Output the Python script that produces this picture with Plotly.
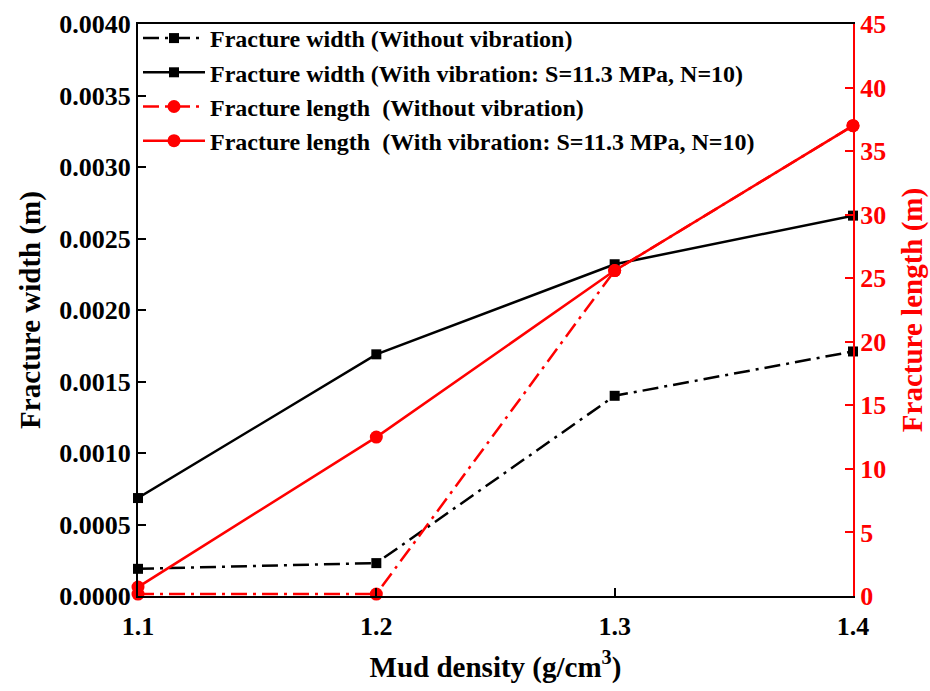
import plotly.graph_objects as go

mud_density = [1.1, 1.2, 1.3, 1.4]
width_without = [0.00019, 0.00023, 0.00140, 0.00171]
width_with = [0.000685, 0.00169, 0.00232, 0.00266]
length_without = [0.15, 0.15, 25.6, 37.0]
length_with = [0.7, 12.5, 25.6, 37.0]

FONT = "Liberation Serif"
RED = "#ff0000"
dashdot = "16px,6px,3px,6px"

fig = go.Figure()
fig.add_trace(go.Scatter(
    x=mud_density, y=width_without, name="Fracture width (Without vibration)",
    mode="lines+markers", line=dict(color="black", width=2.5, dash=dashdot),
    marker=dict(symbol="square", size=10, color="black"), cliponaxis=False, yaxis="y"))
fig.add_trace(go.Scatter(
    x=mud_density, y=width_with, name="Fracture width (With vibration: S=11.3 MPa, N=10)",
    mode="lines+markers", line=dict(color="black", width=2.5),
    marker=dict(symbol="square", size=10, color="black"), cliponaxis=False, yaxis="y"))
fig.add_trace(go.Scatter(
    x=mud_density, y=length_without, name="Fracture length  (Without vibration)",
    mode="lines+markers", line=dict(color=RED, width=2.5, dash=dashdot),
    marker=dict(symbol="circle", size=13, color=RED), cliponaxis=False, yaxis="y2"))
fig.add_trace(go.Scatter(
    x=mud_density, y=length_with, name="Fracture length  (With vibration: S=11.3 MPa, N=10)",
    mode="lines+markers", line=dict(color=RED, width=2.5),
    marker=dict(symbol="circle", size=13, color=RED), cliponaxis=False, yaxis="y2"))

fig.update_layout(
    width=930, height=691,
    margin=dict(l=138, r=77, t=24, b=95),
    plot_bgcolor="white", paper_bgcolor="white",
    font=dict(family=FONT, size=26, color="black", weight="bold"),
    showlegend=True,
    legend=dict(x=0.0, y=1.014, xanchor="left", yanchor="top",
                bgcolor="rgba(0,0,0,0)", font=dict(family=FONT, size=24, weight="bold"),
                itemwidth=62, tracegroupgap=0),
    xaxis=dict(
        range=[1.1, 1.4], tickvals=mud_density, ticktext=["1.1", "1.2", "1.3", "1.4"],
        showline=True, linecolor="black", linewidth=2, mirror=True,
        ticks="inside", ticklen=8, tickwidth=2, tickcolor="black",
        showgrid=False, zeroline=False, ticklabelstandoff=6, automargin=False,
        tickfont=dict(family=FONT, size=26, weight="bold"),
        title=dict(text="Mud density (g/cm<sup>3</sup>)", standoff=16,
                   font=dict(family=FONT, size=29, weight="bold")),
    ),
    yaxis=dict(
        range=[0, 0.004], dtick=0.0005, tickformat=".4f",
        showline=True, linecolor="black", linewidth=2, automargin=False,
        ticks="inside", ticklen=8, tickwidth=2, tickcolor="black",
        showgrid=False, zeroline=False,
        tickfont=dict(family=FONT, size=26, weight="bold"),
        title=dict(text="Fracture width (m)", standoff=10,
                   font=dict(family=FONT, size=29, weight="bold")),
    ),
    yaxis2=dict(
        range=[0, 45], dtick=5, overlaying="y", side="right",
        showline=True, linecolor=RED, linewidth=2, automargin=False,
        ticks="inside", ticklen=8, tickwidth=2, tickcolor=RED,
        showgrid=False, zeroline=False,
        tickfont=dict(family=FONT, size=26, color=RED, weight="bold"),
        title=dict(text="Fracture length (m)", standoff=16,
                   font=dict(family=FONT, size=29, color=RED, weight="bold")),
    ),
)

fig.write_html("out.html")
